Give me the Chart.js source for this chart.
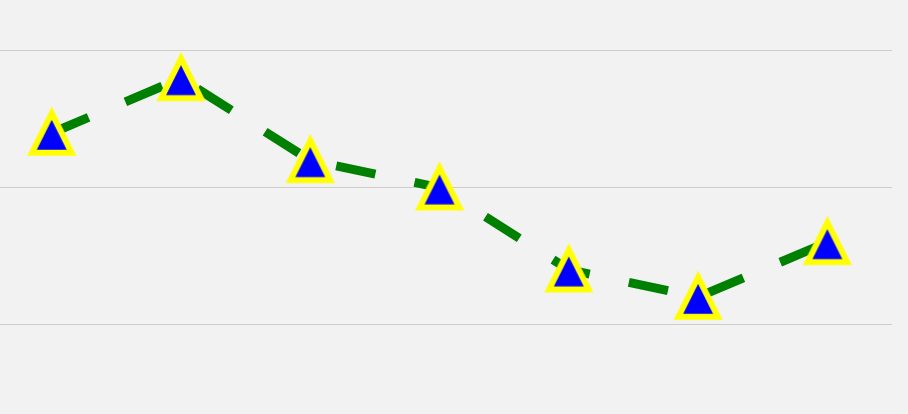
<!DOCTYPE html>
<html>
<head>
<meta charset="utf-8">
<script src="https://cdn.jsdelivr.net/npm/chart.js@4"></script>
<style>
  html, body { margin: 0; padding: 0; background: #f2f2f2; }
  #wrap { width: 908px; height: 414px; }
</style>
</head>
<body>
<div id="wrap"><canvas id="c" width="908" height="414"></canvas></div>
<script>
// ---- data ----
const categories = [0, 1, 2, 3, 4, 5, 6];
const values = [24, 28, 22, 20, 14, 12, 16];
const yTicks = [10, 20, 30];

// ---- marker: blue triangle with yellow edge (width == height) ----
function makeMarker() {
  const c = document.createElement('canvas');
  c.width = 60; c.height = 60;
  const g = c.getContext('2d');
  const h = 19.75;
  g.beginPath();
  g.moveTo(30, 30 - h);
  g.lineTo(30 - h, 30 + h);
  g.lineTo(30 + h, 30 + h);
  g.closePath();
  g.fillStyle = '#0000ff';
  g.fill();
  g.lineJoin = 'miter';
  g.miterLimit = 10;
  g.lineWidth = 6;
  g.strokeStyle = '#ffff00';
  g.stroke();
  return c;
}
const marker = makeMarker();

const bgPlugin = {
  id: 'bg',
  beforeDraw(chart) {
    const ctx = chart.ctx;
    ctx.save();
    ctx.fillStyle = '#f2f2f2';
    ctx.fillRect(0, 0, chart.width, chart.height);
    ctx.restore();
  }
};

new Chart(document.getElementById('c'), {
  type: 'line',
  data: {
    datasets: [{
      data: categories.map((x, i) => ({ x: x, y: values[i] })),
      borderColor: '#008000',
      borderWidth: 9,
      borderDash: [40, 40],
      borderDashOffset: 0,
      borderCapStyle: 'butt',
      borderJoinStyle: 'miter',
      tension: 0,
      fill: false,
      pointStyle: marker,
      pointRadius: 1,
      pointBorderWidth: 0,
      clip: false
    }]
  },
  options: {
    responsive: false,
    animation: false,
    layout: { autoPadding: false, padding: { left: 0, right: 16, top: 0, bottom: 0 } },
    plugins: { legend: { display: false }, tooltip: { enabled: false } },
    scales: {
      x: {
        type: 'linear',
        display: false,
        min: -0.4,
        max: 6.5
      },
      y: {
        type: 'linear',
        min: 3.44,
        max: 33.73,
        afterBuildTicks: (scale) => { scale.ticks = yTicks.map(v => ({ value: v })); },
        ticks: { display: false },
        border: { display: false },
        grid: { color: '#cccccc', lineWidth: 1, drawTicks: false }
      }
    }
  },
  plugins: [bgPlugin]
});
</script>
</body>
</html>
